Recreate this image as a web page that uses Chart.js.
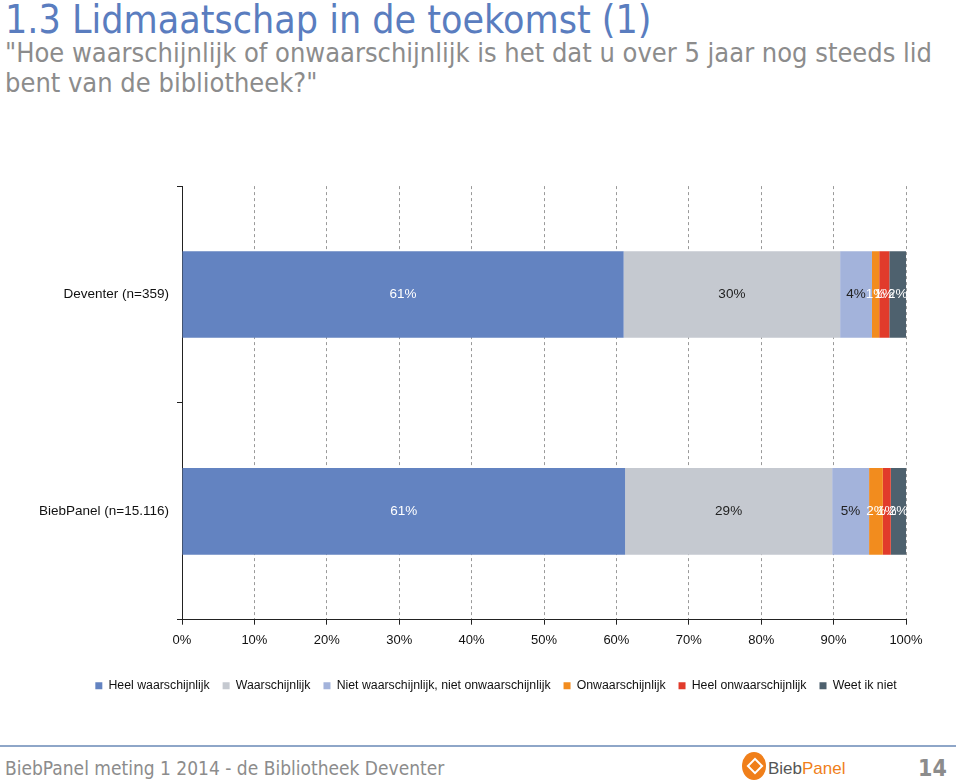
<!DOCTYPE html>
<html>
<head>
<meta charset="utf-8">
<script src="https://cdn.jsdelivr.net/npm/chart.js@4.4.1/dist/chart.umd.min.js"></script>
<style>
  html, body { margin: 0; padding: 0; background: #fff; }
  body { width: 960px; height: 784px; position: relative; overflow: hidden; font-family: "Liberation Sans", Arial, sans-serif; }
  .narrow { font-family: "Liberation Sans Narrow", "DejaVu Sans Condensed", "Liberation Sans", Arial, sans-serif; }
  #title { position: absolute; left: 5px; top: -3px; font-size: 39px; color: #5a7dbf; white-space: nowrap; }
  #subtitle { position: absolute; left: 5px; top: 38px; font-size: 27px; line-height: 30px; color: #8c8c8c; width: 950px; }
  #wrap { position: absolute; left: 0; top: 170px; width: 960px; height: 536px; }
  #rule { position: absolute; left: 0; top: 745px; width: 956px; height: 2px; background: #8ea6c8; }
  #footer { position: absolute; left: 5px; top: 757px; font-size: 19px; color: #8c8c8c; white-space: nowrap; }
  #page { position: absolute; left: 918px; top: 755px; font-size: 23px; font-weight: bold; color: #8c8c8c; }
  #logo { position: absolute; left: 742px; top: 750px; height: 32px; white-space: nowrap; }
  #logo .dot { position: absolute; left: 0; top: 2px; width: 24px; height: 28px; border-radius: 50%; background: #f07f1a; }
  #logo .dot::after { content: ""; position: absolute; left: 7px; top: 8px; width: 8px; height: 8px; border: 2px solid #fff; transform: rotate(45deg); }
  #logo .txt { position: absolute; left: 26px; top: 9px; font-size: 17px; }
</style>
</head>
<body>
<div id="title" class="narrow">1.3 Lidmaatschap in de toekomst (1)</div>
<div id="subtitle" class="narrow">"Hoe waarschijnlijk of onwaarschijnlijk is het dat u over 5 jaar nog steeds lid bent van de bibliotheek?"</div>
<div id="wrap"><canvas id="chart"></canvas></div>
<div id="rule"></div>
<div id="footer" class="narrow">BiebPanel meting 1 2014 - de Bibliotheek Deventer</div>
<div id="logo"><div class="dot"></div><div class="txt"><span style="color:#555">Bieb</span><span style="color:#f07f1a">Panel</span></div></div>
<div id="page" class="narrow">14</div>
<script>
// categories and answer options
const groups = ['Deventer (n=359)', 'BiebPanel (n=15.116)'];
const answers = ['Heel waarschijnlijk', 'Waarschijnlijk', 'Niet waarschijnlijk, niet onwaarschijnlijk',
                 'Onwaarschijnlijk', 'Heel onwaarschijnlijk', 'Weet ik niet'];

// percentages per answer, [Deventer, BiebPanel]
const heelWaarschijnlijk   = [61.0, 61.2];
const waarschijnlijk       = [29.9, 28.6];
const neutraal             = [4.4, 5.1];
const onwaarschijnlijk     = [1.0, 1.9];
const heelOnwaarschijnlijk = [1.4, 1.1];
const weetIkNiet           = [2.3, 2.1];

const xTicks = [0, 10, 20, 30, 40, 50, 60, 70, 80, 90, 100];

const colors = ['#6383c1', '#c5c9d0', '#a3b3db', '#f28c1e', '#e13b2b', '#4e616e'];
const labelColors = ['#ffffff', '#222222', '#222222', '#ffffff', '#ffffff', '#ffffff'];

const series = [heelWaarschijnlijk, waarschijnlijk, neutraal, onwaarschijnlijk, heelOnwaarschijnlijk, weetIkNiet];

const FONT = '"Liberation Sans", Arial, sans-serif';

// draws the rounded percentage in the middle of each segment
const segmentLabels = {
    id: 'segmentLabels',
    afterDatasetsDraw(chart) {
        const ctx = chart.ctx;
        ctx.save();
        ctx.font = '13.5px ' + FONT;
        ctx.textAlign = 'center';
        ctx.textBaseline = 'middle';
        chart.data.datasets.forEach(function (ds, di) {
            const meta = chart.getDatasetMeta(di);
            meta.data.forEach(function (bar, i) {
                const p = bar.getCenterPoint();
                ctx.fillStyle = labelColors[di];
                ctx.fillText(Math.round(ds.data[i]) + '%', p.x, p.y);
            });
        });
        ctx.restore();
    }
};

// legend sits a bit right of the canvas centre in the original slide
const legendShift = {
    id: 'legendShift',
    afterLayout(chart) {
        if (chart.legend) {
            chart.legend.left += 43;
            chart.legend.right += 43;
        }
    }
};

new Chart(document.getElementById('chart'), {
    type: 'bar',
    data: {
        labels: groups,
        datasets: answers.map(function (name, i) {
            return {
                label: name,
                data: series[i],
                backgroundColor: colors[i],
                borderWidth: 0,
                categoryPercentage: 1,
                barPercentage: 0.4,
            };
        }),
    },
    options: {
        indexAxis: 'y',
        responsive: true,
        maintainAspectRatio: false,
        animation: false,
        layout: { padding: { top: 13, right: 54, left: 0, bottom: 4 } },
        plugins: {
            tooltip: { enabled: false },
            legend: {
                position: 'bottom',
                labels: {
                    boxWidth: 7,
                    boxHeight: 7,
                    padding: 13,
                    color: '#111',
                    font: { size: 12.3, family: FONT },
                },
            },
        },
        scales: {
            x: {
                stacked: true,
                min: 0,
                max: 100,
                afterBuildTicks: function (axis) { axis.ticks = xTicks.map(function (v) { return { value: v }; }); },
                afterFit: function (axis) { axis.height = 47; },
                ticks: {
                    padding: 8,
                    color: '#111',
                    font: { size: 13, family: FONT },
                    callback: function (v) { return v + '%'; },
                },
                grid: {
                    color: '#9a9a9a',
                    tickBorderDash: [],
                    tickColor: '#222',
                    tickLength: 5,
                },
                border: { display: true, color: '#222', dash: [3, 3] },
            },
            y: {
                stacked: true,
                afterFit: function (axis) { axis.width = 182; },
                ticks: {
                    padding: 8,
                    color: '#111',
                    font: { size: 13.5, family: FONT },
                },
                grid: {
                    offset: true,
                    drawOnChartArea: false,
                    tickColor: '#222',
                    tickLength: 5,
                },
                border: { display: true, color: '#222' },
            },
        },
    },
    plugins: [segmentLabels, legendShift],
});
</script>
</body>
</html>
